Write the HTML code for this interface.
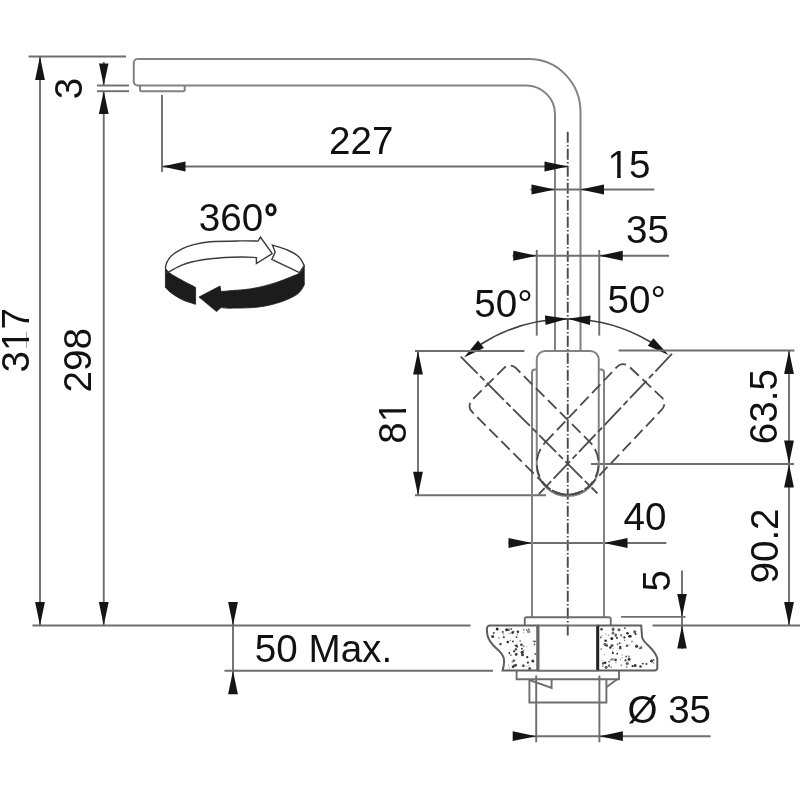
<!DOCTYPE html>
<html><head><meta charset="utf-8"><style>
html,body{margin:0;padding:0;background:#fff;}
svg{display:block;filter:grayscale(1);}
text{font-family:"Liberation Sans",sans-serif;fill:#111;}
</style></head><body>
<svg width="800" height="800" viewBox="0 0 800 800">
<defs><clipPath id="c1" clipPathUnits="userSpaceOnUse"><path clip-rule="evenodd" d="M -50 -60 H 400 V 30 H -50 Z M 2.29 -2.97 H 9.73 V 0.76 H 2.29 Z M 13.33 -2.97 H 20.57 V 0.76 H 13.33 Z "/></clipPath><clipPath id="c2" clipPathUnits="userSpaceOnUse"><path clip-rule="evenodd" d="M -50 -60 H 400 V 30 H -50 Z M 23.98 -2.97 H 31.42 V 0.76 H 23.98 Z M 35.02 -2.97 H 42.26 V 0.76 H 35.02 Z "/></clipPath><clipPath id="c3" clipPathUnits="userSpaceOnUse"><path clip-rule="evenodd" d="M -50 -60 H 400 V 30 H -50 Z M 23.98 -2.97 H 31.42 V 0.76 H 23.98 Z M 35.02 -2.97 H 42.26 V 0.76 H 35.02 Z "/></clipPath></defs>
<rect width="800" height="800" fill="#fff"/>
<line x1="28.5" y1="56.5" x2="126" y2="56.5" stroke="#6e6e6e" stroke-width="1.9" />
<line x1="40" y1="56.5" x2="40" y2="625.5" stroke="#6e6e6e" stroke-width="1.9" />
<polygon points="40.00,56.50 44.90,80.00 35.10,80.00" fill="#151515"/>
<polygon points="40.00,625.50 35.10,602.00 44.90,602.00" fill="#151515"/>
<line x1="103.75" y1="91" x2="103.75" y2="625.5" stroke="#6e6e6e" stroke-width="1.9" />
<polygon points="103.75,91.00 108.65,114.00 98.85,114.00" fill="#151515"/>
<polygon points="103.75,625.50 98.85,602.00 108.65,602.00" fill="#151515"/>
<line x1="103.75" y1="62" x2="103.75" y2="85.5" stroke="#6e6e6e" stroke-width="1.9" />
<polygon points="103.75,85.50 99.00,63.50 108.50,63.50" fill="#151515"/>
<line x1="97" y1="85.5" x2="129" y2="85.5" stroke="#6e6e6e" stroke-width="1.9" />
<line x1="97" y1="91.2" x2="129" y2="91.2" stroke="#6e6e6e" stroke-width="1.9" />
<line x1="32.5" y1="625.5" x2="470.6" y2="625.5" stroke="#6e6e6e" stroke-width="1.9" />
<line x1="652.5" y1="625.5" x2="800" y2="625.5" stroke="#6e6e6e" stroke-width="1.9" />
<line x1="224.5" y1="670.8" x2="493" y2="670.8" stroke="#6e6e6e" stroke-width="1.9" />
<line x1="233" y1="604" x2="233" y2="694" stroke="#6e6e6e" stroke-width="1.9" />
<polygon points="233.00,625.50 228.10,602.00 237.90,602.00" fill="#151515"/>
<polygon points="233.00,670.80 237.90,694.30 228.10,694.30" fill="#151515"/>
<path d="M 137.5 59.1 L 529 59.1 A 51.5 52.9 0 0 1 580.5 112 L 580.5 351" stroke="#828282" stroke-width="2.0" fill="none" />
<path d="M 555 114 A 29 28.5 0 0 0 526 85.5 L 137.5 85.5 A 3.75 3.75 0 0 1 133.75 81.75 L 133.75 62.85 A 3.75 3.75 0 0 1 137.5 59.1" stroke="#828282" stroke-width="2.0" fill="none" />
<line x1="555" y1="114" x2="555" y2="351" stroke="#828282" stroke-width="2.0" />
<path d="M 140 85.5 L 140 90 A 1.2 1.2 0 0 0 141.2 91.2 L 183.5 91.2 A 1.2 1.2 0 0 0 184.7 90 L 184.7 85.5" stroke="#828282" stroke-width="2.0" fill="none" />
<line x1="162" y1="95" x2="162" y2="172" stroke="#6e6e6e" stroke-width="1.9" />
<line x1="162" y1="166.5" x2="568" y2="166.5" stroke="#6e6e6e" stroke-width="1.9" />
<polygon points="162.00,166.50 185.50,161.60 185.50,171.40" fill="#151515"/>
<polygon points="568.00,166.50 544.50,171.40 544.50,161.60" fill="#151515"/>
<line x1="567.75" y1="131.75" x2="567.75" y2="635.6" stroke="#4a4a4a" stroke-width="1.9" stroke-dasharray="11 2.2 1.6 2.2"/>
<line x1="530.5" y1="189.5" x2="654.3" y2="189.5" stroke="#6e6e6e" stroke-width="1.9" />
<polygon points="555.00,189.50 531.50,194.40 531.50,184.60" fill="#151515"/>
<polygon points="580.50,189.50 604.00,184.60 604.00,194.40" fill="#151515"/>
<line x1="536.75" y1="250" x2="536.75" y2="335.6" stroke="#6e6e6e" stroke-width="1.9" />
<line x1="599.25" y1="250" x2="599.25" y2="335.6" stroke="#6e6e6e" stroke-width="1.9" />
<line x1="512.5" y1="255.75" x2="669" y2="255.75" stroke="#6e6e6e" stroke-width="1.9" />
<polygon points="536.75,255.75 513.25,260.65 513.25,250.85" fill="#151515"/>
<polygon points="599.25,255.75 622.75,250.85 622.75,260.65" fill="#151515"/>
<path d="M 480.5 344.5 A 161.25 161.25 0 0 1 651.0 342.3" stroke="#3c3c3c" stroke-width="1.6" fill="none" />
<polygon points="463.90,357.60 478.07,340.46 483.93,347.94" fill="#151515"/>
<polygon points="668.60,355.00 647.82,345.85 653.38,338.15" fill="#151515"/>
<polygon points="567.75,318.75 545.58,325.07 544.92,315.59" fill="#151515"/>
<polygon points="567.75,318.75 590.58,315.59 589.92,325.07" fill="#151515"/>
<line x1="415" y1="351" x2="524.4" y2="351" stroke="#6e6e6e" stroke-width="1.9" />
<line x1="618.5" y1="350.5" x2="794.4" y2="350.5" stroke="#6e6e6e" stroke-width="1.9" />
<line x1="418" y1="351" x2="418" y2="495.3" stroke="#6e6e6e" stroke-width="1.9" />
<polygon points="418.00,351.00 422.90,374.50 413.10,374.50" fill="#151515"/>
<polygon points="418.00,495.30 413.10,471.80 422.90,471.80" fill="#151515"/>
<line x1="415" y1="495.3" x2="546" y2="495.3" stroke="#6e6e6e" stroke-width="1.9" />
<line x1="789" y1="350.5" x2="789" y2="625.5" stroke="#6e6e6e" stroke-width="1.9" />
<polygon points="789.00,350.50 793.90,374.00 784.10,374.00" fill="#151515"/>
<polygon points="789.00,464.00 784.10,440.50 793.90,440.50" fill="#151515"/>
<polygon points="789.00,464.00 793.90,487.50 784.10,487.50" fill="#151515"/>
<polygon points="789.00,625.50 784.10,602.00 793.90,602.00" fill="#151515"/>
<line x1="591" y1="464" x2="794" y2="464" stroke="#6e6e6e" stroke-width="1.9" />
<line x1="508.4" y1="543" x2="666.3" y2="543" stroke="#6e6e6e" stroke-width="1.9" />
<polygon points="532.00,543.00 508.50,547.90 508.50,538.10" fill="#151515"/>
<polygon points="604.00,543.00 627.50,538.10 627.50,547.90" fill="#151515"/>
<line x1="682" y1="570.5" x2="682" y2="648.7" stroke="#6e6e6e" stroke-width="1.9" />
<polygon points="682.00,616.90 677.25,593.90 686.75,593.90" fill="#151515"/>
<polygon points="682.00,625.50 686.75,648.50 677.25,648.50" fill="#151515"/>
<line x1="621" y1="616.9" x2="685.5" y2="616.9" stroke="#6e6e6e" stroke-width="1.9" />
<path d="M 536.75 369.5 L 535 369.5 A 3 3 0 0 0 532 372.5 L 532 617" stroke="#828282" stroke-width="2.0" fill="none" />
<path d="M 598.75 369.5 L 601 369.5 A 3 3 0 0 1 604 372.5 L 604 617" stroke="#828282" stroke-width="2.0" fill="none" />
<path d="M 536.75 465 L 536.75 359.5 A 8.5 8.5 0 0 1 545.25 351 L 590.25 351 A 8.5 8.5 0 0 1 598.75 359.5 L 598.75 465 A 31 31 0 0 1 536.75 465 Z" stroke="#828282" stroke-width="2.0" fill="none" />
<path d="M 545.83 485.67 L 472.11 411.95 A 8.5 8.5 0 0 1 472.11 399.93 L 503.93 368.11 A 8.5 8.5 0 0 1 515.95 368.11 L 589.67 441.83 A 31 31 0 0 1 545.83 485.67" stroke="#4a4a4a" stroke-width="1.8" fill="none" stroke-dasharray="12 5"/>
<line x1="460.69" y1="356.69" x2="597.45" y2="493.45" stroke="#4a4a4a" stroke-width="1.8" stroke-dasharray="24 3.5 6 3.5"/>
<path d="M 545.26 442.41 L 617.02 366.79 A 8.5 8.5 0 0 1 629.04 366.48 L 661.68 397.45 A 8.5 8.5 0 0 1 662.00 409.47 L 590.24 485.09 A 31 31 0 0 1 545.26 442.41" stroke="#4a4a4a" stroke-width="1.8" fill="none" stroke-dasharray="12 5"/>
<line x1="671.97" y1="353.93" x2="538.84" y2="494.22" stroke="#4a4a4a" stroke-width="1.8" stroke-dasharray="24 3.5 6 3.5"/>
<path d="M 524.75 625.5 L 524.75 619.3 A 2 2 0 0 1 526.75 617.3 L 608.75 617.3 A 2 2 0 0 1 610.75 619.3 L 610.75 625.5" stroke="#6e6e6e" stroke-width="1.9" fill="none" />
<path d="M 490 625.5 L 537.75 625.5 L 537.75 670.5 L 502.6 670.5 C 503.6 667 504.6 662 503.8 658.5 C 502.8 654 500 651.5 496.5 648.5 C 492 644.5 488.5 640 487.5 635.5 C 487 633 486.9 631 486.9 628.6 A 3 3 0 0 1 490 625.5 Z" stroke="#5e5e5e" stroke-width="2.0" fill="#fff" />
<path d="M 597.7 625.5 L 641.2 625.5 L 642.1 637.5 C 643 640 645.5 643 648.5 645.7 C 652 649 656 653 657.3 658.5 L 657.3 668 A 2.5 2.5 0 0 1 654.8 670.5 L 597.7 670.5 Z" stroke="#5e5e5e" stroke-width="2.0" fill="#fff" />
<circle cx="502.8" cy="631.9" r="0.9" fill="#2a2a2a"/>
<circle cx="528.7" cy="629.3" r="0.9" fill="#555"/>
<circle cx="497.2" cy="629.0" r="1.5" fill="#2a2a2a"/>
<circle cx="535.3" cy="654.0" r="0.9" fill="#555"/>
<circle cx="514.1" cy="651.3" r="1.1" fill="#2a2a2a"/>
<circle cx="516.2" cy="654.4" r="1.3" fill="#2a2a2a"/>
<circle cx="521.4" cy="644.7" r="1.3" fill="#3a3a3a"/>
<circle cx="516.4" cy="645.8" r="1.3" fill="#2a2a2a"/>
<circle cx="527.3" cy="657.2" r="1.1" fill="#2a2a2a"/>
<circle cx="515.9" cy="649.2" r="1.3" fill="#555"/>
<circle cx="509.3" cy="653.0" r="0.9" fill="#2a2a2a"/>
<circle cx="512.6" cy="632.6" r="1.3" fill="#2a2a2a"/>
<circle cx="534.5" cy="644.4" r="0.9" fill="#555"/>
<circle cx="515.8" cy="665.3" r="1.3" fill="#3a3a3a"/>
<circle cx="522.2" cy="652.3" r="1.5" fill="#2a2a2a"/>
<circle cx="529.7" cy="668.5" r="1.5" fill="#555"/>
<circle cx="522.5" cy="654.8" r="1.5" fill="#3a3a3a"/>
<circle cx="523.3" cy="665.8" r="1.3" fill="#2a2a2a"/>
<circle cx="534.9" cy="641.4" r="0.9" fill="#3a3a3a"/>
<circle cx="492.7" cy="636.4" r="1.5" fill="#3a3a3a"/>
<circle cx="514.6" cy="665.6" r="1.5" fill="#555"/>
<circle cx="500.5" cy="644.1" r="1.3" fill="#555"/>
<circle cx="493.8" cy="633.1" r="1.1" fill="#555"/>
<circle cx="516.6" cy="637.1" r="0.9" fill="#2a2a2a"/>
<circle cx="507.8" cy="642.0" r="1.3" fill="#2a2a2a"/>
<circle cx="521.9" cy="648.7" r="0.9" fill="#3a3a3a"/>
<circle cx="532.8" cy="660.9" r="1.5" fill="#3a3a3a"/>
<circle cx="506.7" cy="629.8" r="1.5" fill="#2a2a2a"/>
<circle cx="508.9" cy="630.1" r="0.9" fill="#2a2a2a"/>
<circle cx="517.9" cy="631.8" r="1.3" fill="#3a3a3a"/>
<circle cx="517.3" cy="646.8" r="0.9" fill="#3a3a3a"/>
<circle cx="511.2" cy="629.0" r="0.9" fill="#555"/>
<circle cx="503.8" cy="637.2" r="1.1" fill="#555"/>
<circle cx="513.5" cy="631.7" r="0.9" fill="#555"/>
<circle cx="513.0" cy="666.8" r="1.3" fill="#2a2a2a"/>
<circle cx="513.7" cy="660.8" r="1.3" fill="#555"/>
<circle cx="527.9" cy="662.6" r="1.1" fill="#2a2a2a"/>
<circle cx="512.9" cy="641.4" r="0.9" fill="#2a2a2a"/>
<circle cx="527.1" cy="646.7" r="0.6" fill="#aaa"/>
<circle cx="509.3" cy="668.1" r="0.8" fill="#aaa"/>
<circle cx="510.4" cy="640.5" r="0.8" fill="#888"/>
<circle cx="510.9" cy="655.0" r="1.0" fill="#888"/>
<circle cx="529.4" cy="630.5" r="0.8" fill="#999"/>
<circle cx="510.9" cy="633.2" r="1.0" fill="#aaa"/>
<circle cx="523.5" cy="646.3" r="1.0" fill="#888"/>
<circle cx="523.7" cy="632.8" r="0.6" fill="#888"/>
<circle cx="527.9" cy="631.7" r="1.0" fill="#777"/>
<circle cx="520.2" cy="641.1" r="1.0" fill="#999"/>
<circle cx="523.8" cy="629.7" r="1.0" fill="#999"/>
<circle cx="508.6" cy="665.1" r="0.6" fill="#888"/>
<circle cx="499.1" cy="638.5" r="0.6" fill="#aaa"/>
<circle cx="499.5" cy="644.3" r="0.6" fill="#888"/>
<circle cx="533.3" cy="641.3" r="0.8" fill="#777"/>
<circle cx="529.0" cy="665.4" r="0.6" fill="#999"/>
<circle cx="508.9" cy="633.4" r="0.6" fill="#999"/>
<circle cx="523.7" cy="650.6" r="0.8" fill="#777"/>
<circle cx="526.8" cy="629.9" r="1.0" fill="#888"/>
<circle cx="498.9" cy="637.7" r="0.6" fill="#777"/>
<circle cx="515.2" cy="660.0" r="0.6" fill="#777"/>
<circle cx="517.5" cy="634.2" r="0.8" fill="#777"/>
<circle cx="512.4" cy="662.1" r="1.0" fill="#999"/>
<circle cx="522.4" cy="665.3" r="0.8" fill="#999"/>
<circle cx="529.7" cy="631.3" r="0.6" fill="#777"/>
<circle cx="509.0" cy="628.3" r="0.6" fill="#777"/>
<circle cx="526.8" cy="666.3" r="0.6" fill="#aaa"/>
<circle cx="529.3" cy="632.4" r="0.8" fill="#777"/>
<circle cx="503.6" cy="634.0" r="0.8" fill="#888"/>
<circle cx="514.8" cy="645.3" r="0.6" fill="#777"/>
<circle cx="617.2" cy="653.7" r="0.9" fill="#2a2a2a"/>
<circle cx="604.9" cy="644.4" r="1.3" fill="#3a3a3a"/>
<circle cx="606.1" cy="667.3" r="1.5" fill="#555"/>
<circle cx="616.9" cy="637.8" r="1.1" fill="#3a3a3a"/>
<circle cx="612.9" cy="653.0" r="1.1" fill="#2a2a2a"/>
<circle cx="613.1" cy="630.6" r="0.9" fill="#3a3a3a"/>
<circle cx="613.0" cy="633.3" r="1.3" fill="#555"/>
<circle cx="615.6" cy="659.9" r="1.3" fill="#3a3a3a"/>
<circle cx="627.5" cy="633.2" r="1.3" fill="#2a2a2a"/>
<circle cx="612.0" cy="645.6" r="1.5" fill="#555"/>
<circle cx="627.2" cy="663.4" r="1.5" fill="#555"/>
<circle cx="615.8" cy="634.9" r="1.1" fill="#3a3a3a"/>
<circle cx="609.1" cy="665.6" r="1.1" fill="#3a3a3a"/>
<circle cx="635.2" cy="665.5" r="1.5" fill="#2a2a2a"/>
<circle cx="620.2" cy="648.3" r="1.3" fill="#555"/>
<circle cx="611.8" cy="638.5" r="1.5" fill="#2a2a2a"/>
<circle cx="606.6" cy="645.5" r="1.3" fill="#3a3a3a"/>
<circle cx="630.4" cy="636.2" r="1.3" fill="#2a2a2a"/>
<circle cx="620.3" cy="646.8" r="1.1" fill="#2a2a2a"/>
<circle cx="613.1" cy="629.1" r="1.5" fill="#555"/>
<circle cx="615.6" cy="635.7" r="1.1" fill="#555"/>
<circle cx="651.5" cy="661.1" r="1.5" fill="#3a3a3a"/>
<circle cx="641.0" cy="647.7" r="1.3" fill="#555"/>
<circle cx="634.7" cy="631.7" r="1.5" fill="#555"/>
<circle cx="639.8" cy="648.3" r="0.9" fill="#555"/>
<circle cx="632.6" cy="666.1" r="1.1" fill="#2a2a2a"/>
<circle cx="619.0" cy="629.8" r="1.5" fill="#555"/>
<circle cx="629.4" cy="636.2" r="1.3" fill="#2a2a2a"/>
<circle cx="624.9" cy="628.2" r="0.9" fill="#555"/>
<circle cx="629.1" cy="659.3" r="1.5" fill="#3a3a3a"/>
<circle cx="646.4" cy="663.9" r="1.1" fill="#555"/>
<circle cx="636.6" cy="646.2" r="1.5" fill="#2a2a2a"/>
<circle cx="626.2" cy="656.5" r="0.9" fill="#555"/>
<circle cx="635.6" cy="634.1" r="1.1" fill="#3a3a3a"/>
<circle cx="612.5" cy="659.2" r="1.3" fill="#555"/>
<circle cx="600.7" cy="637.4" r="0.9" fill="#555"/>
<circle cx="610.3" cy="647.5" r="1.3" fill="#3a3a3a"/>
<circle cx="625.4" cy="660.3" r="1.1" fill="#3a3a3a"/>
<circle cx="624.4" cy="637.4" r="1.1" fill="#2a2a2a"/>
<circle cx="601.6" cy="629.2" r="1.3" fill="#3a3a3a"/>
<circle cx="605.1" cy="662.7" r="1.3" fill="#2a2a2a"/>
<circle cx="627.0" cy="645.7" r="1.3" fill="#555"/>
<circle cx="605.6" cy="640.8" r="1.3" fill="#2a2a2a"/>
<circle cx="642.8" cy="663.6" r="0.9" fill="#2a2a2a"/>
<circle cx="640.5" cy="666.5" r="1.3" fill="#3a3a3a"/>
<circle cx="619.7" cy="643.1" r="0.9" fill="#3a3a3a"/>
<circle cx="653.5" cy="659.8" r="0.9" fill="#3a3a3a"/>
<circle cx="603.2" cy="663.4" r="1.3" fill="#555"/>
<circle cx="613.2" cy="648.5" r="0.6" fill="#aaa"/>
<circle cx="621.4" cy="665.3" r="1.0" fill="#999"/>
<circle cx="641.7" cy="645.7" r="0.6" fill="#aaa"/>
<circle cx="626.6" cy="666.9" r="1.0" fill="#999"/>
<circle cx="607.4" cy="644.1" r="0.8" fill="#aaa"/>
<circle cx="612.6" cy="659.0" r="1.0" fill="#aaa"/>
<circle cx="621.8" cy="636.0" r="0.8" fill="#777"/>
<circle cx="604.3" cy="654.6" r="0.6" fill="#999"/>
<circle cx="627.5" cy="662.3" r="1.0" fill="#999"/>
<circle cx="624.6" cy="640.3" r="0.8" fill="#777"/>
<circle cx="605.5" cy="633.9" r="0.6" fill="#999"/>
<circle cx="617.9" cy="629.2" r="0.6" fill="#aaa"/>
<circle cx="612.8" cy="651.2" r="0.6" fill="#777"/>
<circle cx="620.4" cy="659.3" r="0.6" fill="#777"/>
<circle cx="613.5" cy="659.6" r="0.8" fill="#aaa"/>
<circle cx="632.0" cy="641.6" r="1.0" fill="#999"/>
<circle cx="602.6" cy="666.3" r="0.8" fill="#777"/>
<circle cx="636.4" cy="644.9" r="0.8" fill="#888"/>
<circle cx="604.8" cy="644.6" r="0.8" fill="#777"/>
<circle cx="653.5" cy="663.0" r="0.8" fill="#777"/>
<circle cx="612.2" cy="630.0" r="0.6" fill="#999"/>
<circle cx="628.9" cy="656.4" r="1.0" fill="#777"/>
<circle cx="602.2" cy="660.7" r="0.6" fill="#999"/>
<circle cx="611.2" cy="667.3" r="1.0" fill="#aaa"/>
<circle cx="629.2" cy="645.1" r="0.6" fill="#888"/>
<circle cx="601.3" cy="649.1" r="1.0" fill="#999"/>
<circle cx="620.7" cy="635.3" r="1.0" fill="#888"/>
<circle cx="636.3" cy="665.7" r="0.8" fill="#999"/>
<circle cx="622.1" cy="654.9" r="0.6" fill="#888"/>
<circle cx="608.8" cy="665.7" r="1.0" fill="#777"/>
<circle cx="601.9" cy="635.5" r="0.8" fill="#aaa"/>
<circle cx="617.6" cy="644.3" r="1.0" fill="#777"/>
<circle cx="609.1" cy="661.7" r="1.0" fill="#888"/>
<circle cx="616.0" cy="662.7" r="0.6" fill="#777"/>
<circle cx="610.5" cy="660.0" r="0.8" fill="#888"/>
<circle cx="608.4" cy="635.3" r="0.8" fill="#888"/>
<circle cx="621.0" cy="634.8" r="1.0" fill="#999"/>
<circle cx="622.3" cy="657.7" r="0.6" fill="#777"/>
<line x1="537.9" y1="625.5" x2="537.9" y2="670.5" stroke="#666" stroke-width="3.2" />
<line x1="597.7" y1="625.5" x2="597.7" y2="670.5" stroke="#222" stroke-width="3" />
<line x1="537.75" y1="625.5" x2="597.7" y2="625.5" stroke="#6e6e6e" stroke-width="1.9" />
<line x1="537.75" y1="670.8" x2="597.7" y2="670.8" stroke="#6e6e6e" stroke-width="1.9" />
<path d="M 516.6 670.8 L 516.6 679.25 L 619 679.25 L 619 670.8" stroke="#6e6e6e" stroke-width="1.9" fill="none" />
<path d="M 529.4 679.25 L 529.4 702.5 L 606.4 702.5 L 606.4 679.25" stroke="#6e6e6e" stroke-width="1.9" fill="none" />
<path d="M 529.4 680 L 551.6 688 L 551.6 679.25" stroke="#6e6e6e" stroke-width="1.9" fill="none" />
<path d="M 606.6 687 L 617.25 679.25" stroke="#6e6e6e" stroke-width="1.9" fill="none" />
<line x1="536.2" y1="675.5" x2="536.2" y2="742.3" stroke="#6e6e6e" stroke-width="1.9" />
<line x1="599.4" y1="675.5" x2="599.4" y2="742.3" stroke="#6e6e6e" stroke-width="1.9" />
<line x1="513" y1="736.2" x2="710.5" y2="736.2" stroke="#6e6e6e" stroke-width="1.9" />
<polygon points="536.20,736.20 512.70,741.10 512.70,731.30" fill="#151515"/>
<polygon points="599.40,736.20 622.90,731.30 622.90,741.10" fill="#151515"/>
<path d="M 165.4 268.2 C 166.18 269.05 167.25 271.23 170.10 273.30 C 172.95 275.37 178.25 278.25 182.50 280.60 C 186.75 282.95 193.42 286.27 195.60 287.40 L 195.6 304.3 C 193.42 303.55 186.55 301.68 182.50 299.80 C 178.45 297.92 174.15 295.07 171.30 293.00 C 168.45 290.93 166.38 288.33 165.40 287.40 Z" stroke="#1c1c1c" stroke-width="0.8" fill="#1c1c1c" />
<path d="M 304.25 266 C 303.50 267.12 301.62 271.07 299.75 272.75 C 297.88 274.43 297.12 274.41 293.00 276.10 C 288.88 277.79 281.75 280.83 275.00 282.90 C 268.25 284.97 260.00 287.19 252.50 288.50 C 245.00 289.81 235.25 290.25 230.00 290.75 C 224.75 291.25 222.50 291.38 221.00 291.50 L 220 286 L 199 297 L 216.5 311.5 L 221 307.6 C 222.50 307.70 223.82 308.28 230.00 308.20 C 236.18 308.12 249.67 308.13 258.10 307.10 C 266.53 306.07 274.03 304.17 280.60 302.00 C 287.17 299.83 293.56 296.92 297.50 294.10 C 301.44 291.28 303.12 286.60 304.25 285.10 Z" stroke="#1c1c1c" stroke-width="0.8" fill="#1c1c1c" />
<path d="M 165.4 268.2 C 165.62 267.27 165.78 264.65 166.75 262.60 C 167.72 260.55 168.62 258.23 171.25 255.90 C 173.88 253.57 178.75 250.48 182.50 248.60 C 186.25 246.72 189.07 245.73 193.75 244.60 C 198.43 243.47 202.89 242.42 210.60 241.80 C 218.31 241.18 232.08 241.02 240.00 240.90 C 247.92 240.78 255.08 241.07 258.10 241.10 L 260.4 237 L 272.2 253.6 L 256.4 263.5 L 256.4 257.6 C 253.67 257.50 247.63 256.82 240.00 257.00 C 232.37 257.18 218.31 257.95 210.60 258.70 C 202.89 259.45 198.43 260.47 193.75 261.50 C 189.07 262.53 186.44 263.30 182.50 264.90 C 178.56 266.50 172.77 269.75 170.10 271.10 C 167.43 272.45 167.10 272.68 166.50 273.00 " stroke="#3a3a3a" stroke-width="1.4" fill="none" />
<path d="M 272.5 245.2 C 275.17 246.08 284.08 248.53 288.50 250.50 C 292.92 252.47 296.38 254.50 299.00 257.00 C 301.62 259.50 303.38 264.08 304.25 265.50 L 299.5 272.6 L 271.8 259.4 L 275.2 252.3 Z" stroke="#3a3a3a" stroke-width="1.4" fill="none" />
<text transform="matrix(0.99 0 0 1 329.07 153.59)" x="0" y="0" font-size="39">227</text>
<text transform="matrix(0.99 0 0 1 607.53 177.68)" x="0" y="0" font-size="39" clip-path="url(#c1)">15</text>
<text transform="matrix(0.99 0 0 1 626.05 243.48)" x="0" y="0" font-size="39">35</text>
<text transform="matrix(0.99 0 0 1 474.19 316.68)" x="0" y="0" font-size="39">50°</text>
<text transform="matrix(0.99 0 0 1 607.44 312.68)" x="0" y="0" font-size="39">50°</text>
<text transform="matrix(0.99 0 0 1 623.46 529.98)" x="0" y="0" font-size="39">40</text>
<text transform="matrix(0.99 0 0 1 254.82 661.83)" x="0" y="0" font-size="39">50 Max.</text>
<text transform="matrix(0.99 0 0 1 627.39 723.45)" x="0" y="0" font-size="39">Ø 35</text>
<text transform="matrix(0.99 0 0 1 198.81 230.63)" x="0" y="0" font-size="39">360</text>
<ellipse cx="271" cy="209.7" rx="4.05" ry="4.9" fill="none" stroke="#111" stroke-width="3.2"/>
<text transform="matrix(0 -0.99 1 0 29.38 372.47)" x="0" y="0" font-size="39" clip-path="url(#c2)">317</text>
<text transform="matrix(0 -0.99 1 0 91.48 392.54)" x="0" y="0" font-size="39">298</text>
<text transform="matrix(0 -0.99 1 0 82.43 99.25)" x="0" y="0" font-size="39">3</text>
<text transform="matrix(0 -0.99 1 0 405.73 443.69)" x="0" y="0" font-size="39" clip-path="url(#c3)">81</text>
<text transform="matrix(0 -0.99 1 0 777.13 444.24)" x="0" y="0" font-size="39">63.5</text>
<text transform="matrix(0 -0.99 1 0 778.13 583.56)" x="0" y="0" font-size="39">90.2</text>
<text transform="matrix(0 -0.99 1 0 670.48 591.45)" x="0" y="0" font-size="39">5</text>
</svg>
</body></html>
